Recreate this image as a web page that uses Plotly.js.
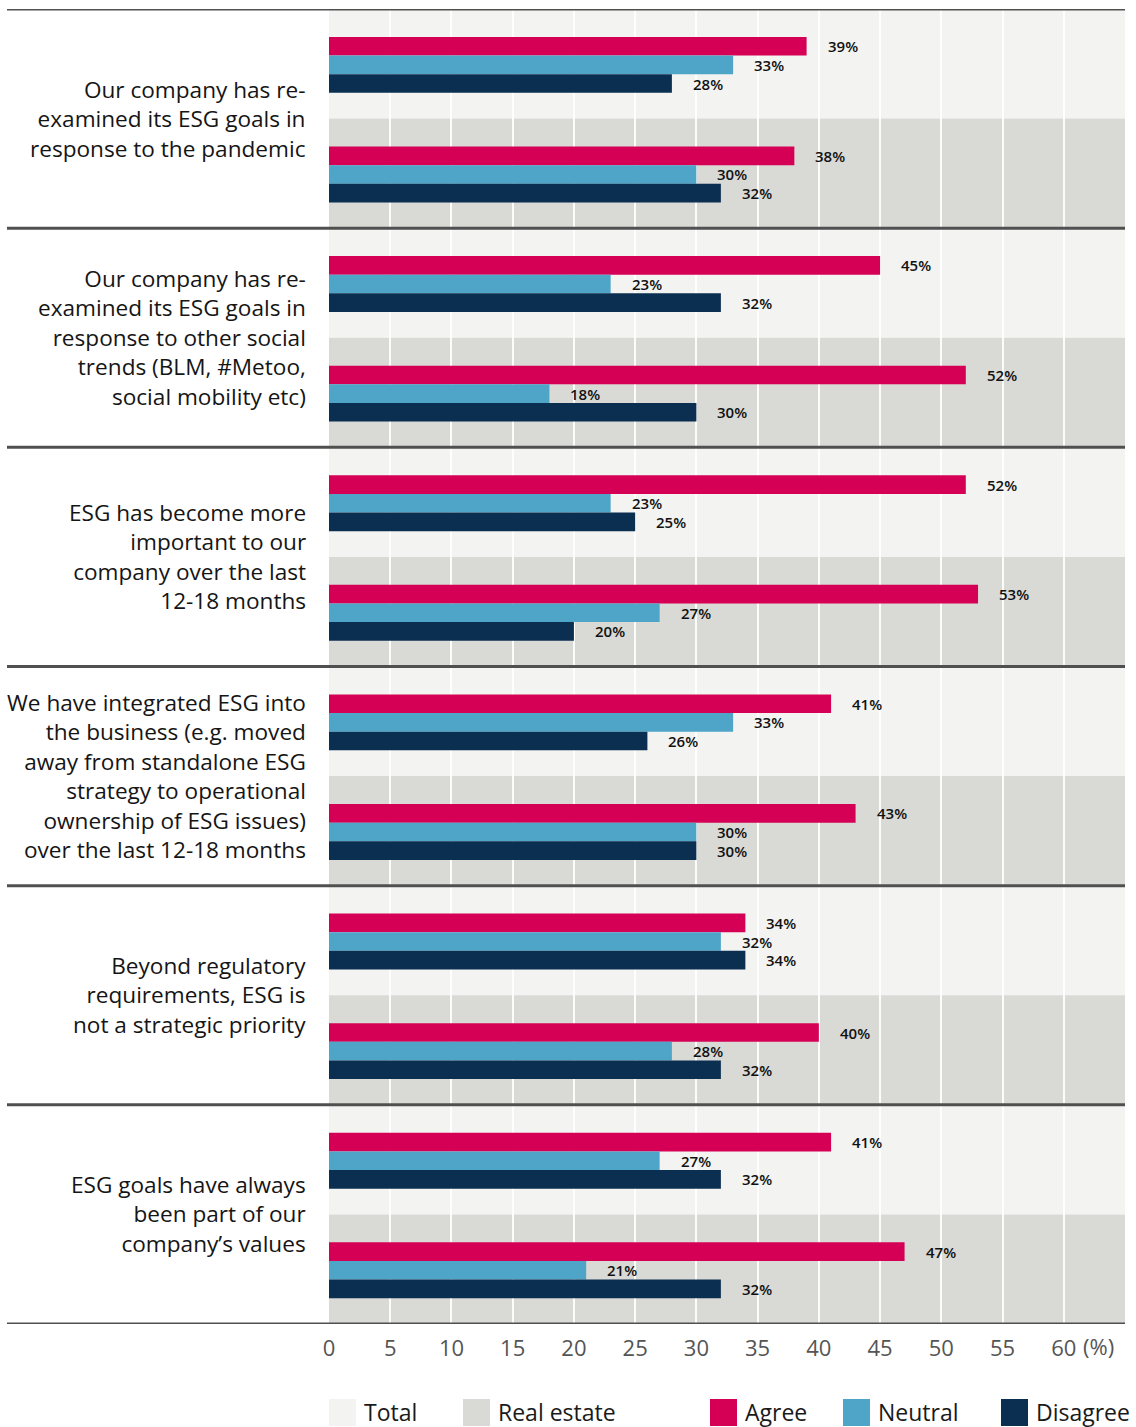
<!DOCTYPE html>
<html>
<head>
<meta charset="utf-8">
<script src="https://cdn.plot.ly/plotly-3.0.1.min.js"></script>
<style>
  html, body { margin: 0; padding: 0; background: #ffffff; }
  #chart { width: 1136px; height: 1427px; }
</style>
</head>
<body>
<div id="chart"></div>
<script>
// ---------- DATA ----------
const statements = [
  "Our company has re-<br>examined its ESG goals in<br>response to the pandemic",
  "Our company has re-<br>examined its ESG goals in<br>response to other social<br>trends (BLM, #Metoo,<br>social mobility etc)",
  "ESG has become more<br>important to our<br>company over the last<br>12-18 months",
  "We have integrated ESG into<br>the business (e.g. moved<br>away from standalone ESG<br>strategy to operational<br>ownership of ESG issues)<br>over the last 12-18 months",
  "Beyond regulatory<br>requirements, ESG is<br>not a strategic priority",
  "ESG goals have always<br>been part of our<br>company’s values"
];
const segments = ["Total", "Real estate"];
const responses = ["Agree", "Neutral", "Disagree"];

const agreeTotal    = [39, 45, 52, 41, 34, 41];
const neutralTotal  = [33, 23, 23, 33, 32, 27];
const disagreeTotal = [28, 32, 25, 26, 34, 32];

const agreeRE    = [38, 52, 53, 43, 40, 47];
const neutralRE  = [30, 18, 27, 30, 28, 21];
const disagreeRE = [32, 30, 20, 30, 32, 32];

const xTickVals = [0, 5, 10, 15, 20, 25, 30, 35, 40, 45, 50, 55, 60];
const xTickText = ["0", "5", "10", "15", "20", "25", "30", "35", "40", "45", "50", "55", "60"];
const unitLabel = "(%)";

// ---------- STYLE ----------
const FONT = "Open Sans, Noto Sans, sans-serif";
const colors = { Agree: "#d50055", Neutral: "#4ea5c8", Disagree: "#0b2f50" };
const bandColors = { "Total": "#f3f3f1", "Real estate": "#d9d9d5" };
const W = 1136, H = 1427;
const M = { l: 329, r: 11, t: 9, b: 103 };
const plotW = W - M.l - M.r, plotH = H - M.t - M.b;
const px2x = px => (px - M.l) / plotW;
const py2y = py => (M.t + plotH - py) / plotH;

const barW = 0.17;
const offsets = { Agree: -barW, Neutral: 0, Disagree: barW };
const series = {
  Agree:    [agreeTotal, agreeRE],
  Neutral:  [neutralTotal, neutralRE],
  Disagree: [disagreeTotal, disagreeRE]
};

const traces = [];
const annotations = [];
responses.forEach(r => {
  const xs = [], ys = [];
  statements.forEach((s, g) => {
    segments.forEach((seg, si) => {
      const k = 2 * g + si;
      xs.push(series[r][si][g]);
      ys.push(k + offsets[r] + 0.01);
    });
  });
  traces.push({
    type: "bar", orientation: "h", name: r,
    x: xs, y: ys, width: barW,
    marker: { color: colors[r], line: { width: 0 } },
    hoverinfo: "x+name", showlegend: false
  });
  xs.forEach((v, i) => {
    annotations.push({
      x: v, y: ys[i], xref: "x", yref: "y",
      text: v + "%", showarrow: false,
      xanchor: "left", yanchor: "middle", xshift: 20, borderpad: 0,
      font: { family: FONT, size: 15, color: "#111111", weight: 600 }
    });
  });
});

// statement labels
statements.forEach((s, g) => {
  annotations.push({
    x: 0, y: 2 * g + 0.5, xref: "paper", yref: "y",
    text: s, showarrow: false, align: "right",
    xanchor: "right", yanchor: "middle", xshift: -21,
    font: { family: FONT, size: 22.6, color: "#151515" }
  });
});

// unit label after 60
annotations.push({
  x: 60, y: py2y(1346), xref: "x", yref: "paper",
  text: unitLabel, showarrow: false, xanchor: "left", yanchor: "middle", xshift: 17,
  font: { family: FONT, size: 22, color: "#555555" }
});

// shapes: bands and separators
const shapes = [];
statements.forEach((s, g) => {
  segments.forEach((seg, si) => {
    const k = 2 * g + si;
    shapes.push({
      type: "rect", xref: "paper", yref: "y", x0: 0, x1: 1, y0: k - 0.5, y1: k + 0.5,
      fillcolor: bandColors[seg], line: { width: 0 }, layer: "below"
    });
  });
});
for (let g = 0; g <= statements.length; g++) {
  shapes.push({
    type: "line", xref: "paper", yref: "y", x0: px2x(7), x1: 1, y0: 2 * g - 0.5, y1: 2 * g - 0.5,
    line: { color: "#505050", width: 3 }, layer: "above"
  });
}

// legend (manual)
const legendItems = [
  { label: segments[0], color: bandColors["Total"], px: 329 },
  { label: segments[1], color: bandColors["Real estate"], px: 463 },
  { label: responses[0], color: colors.Agree, px: 710 },
  { label: responses[1], color: colors.Neutral, px: 843 },
  { label: responses[2], color: colors.Disagree, px: 1001 }
];
legendItems.forEach(it => {
  shapes.push({
    type: "rect", xref: "paper", yref: "paper",
    x0: px2x(it.px), x1: px2x(it.px + 27), y0: py2y(1426), y1: py2y(1399),
    fillcolor: it.color, line: { width: 0 }
  });
  annotations.push({
    x: px2x(it.px + 33), y: py2y(1412), xref: "paper", yref: "paper",
    text: it.label, showarrow: false, xanchor: "left", yanchor: "middle",
    font: { family: FONT, size: 23, color: "#1a1a1a" }
  });
});

const layout = {
  width: W, height: H,
  margin: M,
  paper_bgcolor: "#ffffff", plot_bgcolor: "#ffffff",
  barmode: "overlay",
  showlegend: false,
  xaxis: {
    range: [0, 65], tickvals: xTickVals, ticktext: xTickText,
    showgrid: true, gridcolor: "rgba(255,255,255,0.9)", gridwidth: 2,
    zeroline: false, showline: false, ticks: "",
    tickfont: { family: FONT, size: 22, color: "#555555" },
    ticklabelstandoff: 9, fixedrange: true
  },
  yaxis: {
    range: [11.5, -0.5], showticklabels: false, showgrid: false,
    zeroline: false, showline: false, ticks: "", fixedrange: true
  },
  shapes: shapes,
  annotations: annotations
};

Plotly.newPlot("chart", traces, layout, { displayModeBar: false, staticPlot: true });
</script>
</body>
</html>
